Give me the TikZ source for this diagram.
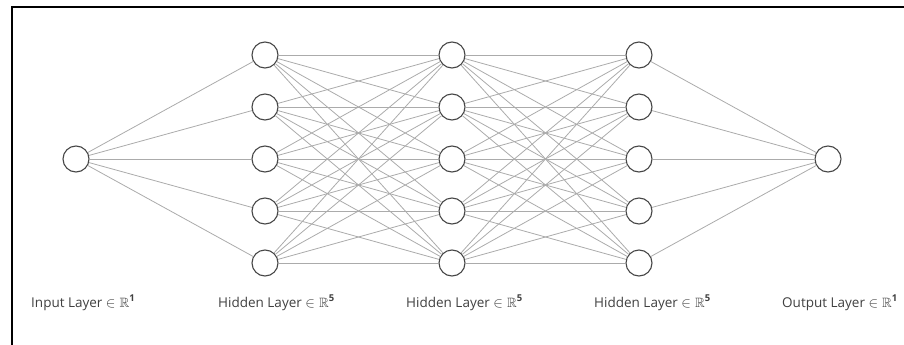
\documentclass[tikz,border=0pt]{standalone}
\usepackage{amssymb}
\usepackage{fontspec}
\setmainfont{Open Sans}
\begin{document}
\begin{tikzpicture}[x=1pt,y=-1pt,
  neuron/.style={circle,draw=black!72,line width=1.1pt,fill=white,minimum size=26pt,inner sep=0pt},
  edge/.style={draw=black!33,line width=0.8pt},
  lbl/.style={font=\fontsize{13.5}{16}\selectfont,text=black!75,inner sep=0pt,anchor=base west}]
\useasboundingbox (0,0) rectangle (904,345);
\draw[line width=1.6pt] (12,345) -- (12,7) -- (904,7);
\node[neuron] (i) at (76,159) {};
\foreach \k/\y in {1/55,2/107,3/159,4/211,5/263}{
  \node[neuron] (a\k) at (265,\y) {};
  \node[neuron] (b\k) at (452,\y) {};
  \node[neuron] (c\k) at (639,\y) {};
}
\node[neuron] (o) at (828,159) {};
\foreach \k in {1,...,5}{
  \draw[edge] (i) -- (a\k);
  \draw[edge] (c\k) -- (o);
  \foreach \m in {1,...,5}{
    \draw[edge] (a\k) -- (b\m);
    \draw[edge] (b\k) -- (c\m);
  }
}
\newcommand{\layset}[1]{$\in \mathbb{R}^{\mathbf{#1}}$}
\node[lbl] (l1) at (31,307) {Input Layer \layset{1}};
\node[lbl] (l2) at (218,307) {Hidden Layer \layset{5}};
\node[lbl] (l3) at (406,307) {Hidden Layer \layset{5}};
\node[lbl] (l4) at (594,307) {Hidden Layer \layset{5}};
\node[lbl] (l5) at (782,307) {Output Layer \layset{1}};
\end{tikzpicture}
\end{document}
